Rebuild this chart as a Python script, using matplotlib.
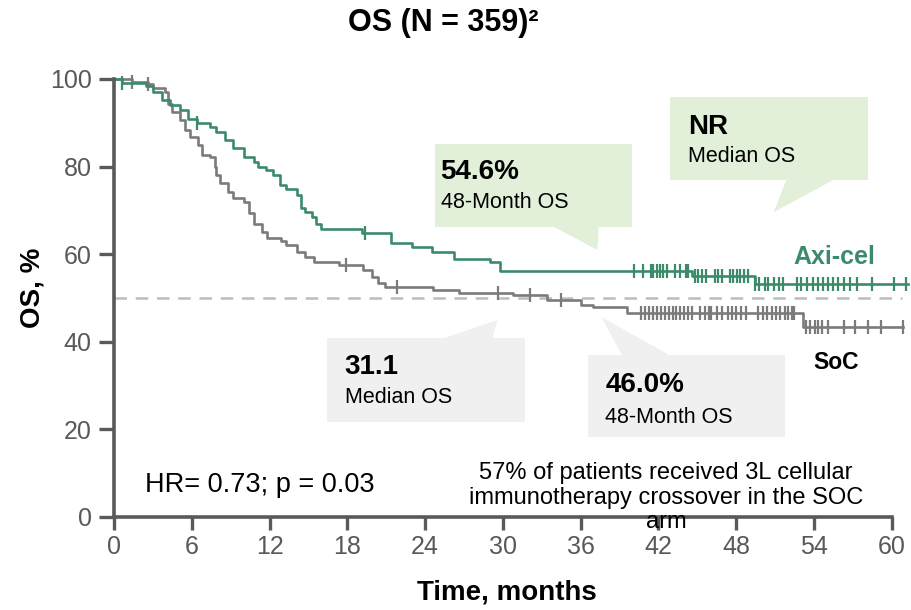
import numpy as np
import matplotlib
matplotlib.use('Agg')
import matplotlib.pyplot as plt
from matplotlib.patches import Rectangle, Polygon

plt.rcParams['font.family'] = ['Liberation Sans', 'DejaVu Sans']

# 数据：KM 曲线的阶梯点（月, OS%）
axi_t = [0, 0.6, 2.5, 3.0, 3.7, 4.3, 5.1, 5.7, 6.4, 7.4, 7.9, 8.6, 9.2, 10.0, 10.8,
         11.1, 11.7, 12.3, 12.8, 13.3, 14.1, 14.4, 14.7, 15.3, 15.6, 16.0, 19.1,
         21.4, 23.0, 24.5, 26.2, 29.0, 29.8, 44.6, 49.5, 61.3]
axi_s = [100, 99.2, 98.4, 97.1, 95.2, 94.1, 92.9, 90.9, 89.9, 89.1, 88.0, 86.1, 84.2,
         82.3, 81.1, 80.0, 79.2, 78.1, 75.8, 75.0, 73.5, 70.5, 69.7, 68.6, 67.0, 65.7,
         64.9, 62.5, 61.7, 60.6, 58.8, 58.3, 56.1, 55.0, 53.3, 53.3]
soc_t = [0, 1.4, 2.6, 3.0, 3.9, 4.2, 4.5, 5.1, 5.5, 5.9, 6.5, 6.8, 7.4, 7.8, 7.9, 8.2,
         8.8, 9.2, 10.0, 10.4, 10.8, 11.4, 11.8, 12.9, 13.3, 14.1, 14.7, 15.4, 17.4,
         19.2, 19.9, 20.4, 20.9, 24.6, 26.6, 30.8, 33.4, 36.0, 37.0, 39.6, 53.2, 60.9]
soc_s = [100, 99.4, 98.9, 97.9, 97.1, 94.4, 92.5, 90.6, 88.4, 86.8, 84.9, 82.6, 82.3,
         80.0, 78.1, 76.2, 74.3, 72.8, 72.0, 69.3, 67.0, 65.1, 63.6, 62.9, 62.1, 60.6,
         59.4, 58.3, 57.5, 56.4, 54.9, 53.4, 52.4, 51.8, 51.2, 50.7, 49.5, 48.4, 48.0,
         46.6, 43.4, 43.4]

# 删失标记（月）
axi_cens = [0.6, 6.4, 19.4, 40.1, 40.8, 41.4, 41.6, 41.9, 42.1, 42.4, 42.7, 43.3, 43.7,
            44.1, 44.3, 44.8, 45.1, 45.4, 45.7, 46.4, 46.6, 46.9, 47.5, 47.8, 48.1, 48.3,
            48.6, 48.9, 49.5, 49.8, 50.2, 50.5, 50.9, 51.3, 51.6, 52.7, 53.0, 53.5, 53.9,
            54.3, 54.7, 55.1, 55.5, 55.9, 56.3, 56.8, 57.3, 58.5, 60.2, 61.1]
soc_cens = [1.4, 2.6, 17.9, 21.8, 29.6, 32.1, 34.5, 40.7, 41.0, 41.3, 41.6, 41.9, 42.2,
            42.5, 42.8, 43.1, 43.4, 43.7, 44.0, 44.3, 44.6, 45.2, 45.6, 45.9, 46.1, 46.5,
            46.9, 47.4, 47.7, 48.0, 48.4, 48.8, 49.7, 50.1, 50.4, 50.8, 51.1, 51.4, 51.8,
            52.0, 52.3, 52.5, 53.4, 53.7, 54.1, 54.3, 54.6, 55.1, 56.3, 57.2, 58.2, 59.2,
            60.9]

xticks = [0, 6, 12, 18, 24, 30, 36, 42, 48, 54, 60]
yticks = [0, 20, 40, 60, 80, 100]

green = '#3b8b6b'
grey = '#7b7b7b'
axcol = '#595959'
box_green = '#e2efd9'
box_grey = '#f0f0f0'


def surv_at(t, times, surv):
    i = np.searchsorted(times, t, side='right') - 1
    return np.array(surv)[i]


fig = plt.figure(figsize=(9.12, 6.10), dpi=100)
ax = fig.add_axes([114 / 912, 93 / 610, 797 / 912, 438 / 610])

# 标注框
def callout(x0, x1, y0, y1, tail, color):
    ax.add_patch(Rectangle((x0, y0), x1 - x0, y1 - y0, facecolor=color, edgecolor='none', zorder=1))
    ax.add_patch(Polygon(tail, closed=True, facecolor=color, edgecolor='none', zorder=1))

callout(24.8, 40.0, 66.2, 85.2, [(33.9, 66.3), (37.4, 66.3), (37.3, 61.0)], box_green)
callout(42.9, 58.2, 77.0, 95.9, [(51.9, 77.1), (55.6, 77.1), (50.9, 69.6)], box_green)
callout(16.4, 31.7, 21.7, 40.9, [(25.4, 40.8), (29.2, 40.8), (29.6, 45.0)], box_grey)
callout(36.6, 51.8, 18.3, 37.0, [(37.6, 45.7), (39.2, 36.9), (42.9, 36.9)], box_grey)

ax.text(25.2, 78.8, '54.6%', fontsize=20, fontweight='bold', va='center', zorder=2)
ax.text(25.2, 71.7, '48-Month OS', fontsize=15.5, va='center', zorder=2)
ax.text(44.3, 89.0, 'NR', fontsize=20, fontweight='bold', va='center', zorder=2)
ax.text(44.3, 82.2, 'Median OS', fontsize=15.5, va='center', zorder=2)
ax.text(17.8, 34.2, '31.1', fontsize=20, fontweight='bold', va='center', zorder=2)
ax.text(17.8, 27.2, 'Median OS', fontsize=15.5, va='center', zorder=2)
ax.text(37.9, 30.1, '46.0%', fontsize=20, fontweight='bold', va='center', zorder=2)
ax.text(37.9, 22.8, '48-Month OS', fontsize=15.5, va='center', zorder=2)

# 50% 参考线
ax.plot([0, 60.8], [50, 50], color='#bdbdbd', lw=1.8, dashes=(5, 3.5), zorder=2, clip_on=False)

# KM 曲线
ax.step(axi_t, axi_s, where='post', color=green, lw=1.9, zorder=4, clip_on=False)
ax.step(soc_t, soc_s, where='post', color=grey, lw=1.9, zorder=3, clip_on=False)
ax.plot(axi_cens, surv_at(axi_cens, axi_t, axi_s), ls='none', marker='|', ms=10.5, mew=1.6,
        color=green, zorder=4, clip_on=False)
ax.plot(soc_cens, surv_at(soc_cens, soc_t, soc_s), ls='none', marker='|', ms=10.5, mew=1.6,
        color=grey, zorder=3, clip_on=False)

ax.text(55.6, 59.4, 'Axi-cel', color=green, fontsize=18, fontweight='bold', ha='center', va='center')
ax.text(55.7, 35.2, 'SoC', color='black', fontsize=16.5, fontweight='bold', ha='center', va='center')
ax.text(2.4, 7.3, 'HR= 0.73; p = 0.03', fontsize=19.5, va='center')
ax.text(42.6, 4.4, '57% of patients received 3L cellular\nimmunotherapy crossover in the SOC\narm',
        fontsize=17, ha='center', va='center', linespacing=1.15, zorder=6)

ax.set_xlim(0, 61.5)
ax.set_ylim(0, 100)
ax.set_xticks(xticks)
ax.set_yticks(yticks)
for s in ['top', 'right']:
    ax.spines[s].set_visible(False)
for s in ['left', 'bottom']:
    ax.spines[s].set_color(axcol)
    ax.spines[s].set_linewidth(2.6)
    ax.spines[s].set_zorder(5)
ax.spines['bottom'].set_bounds(0, 60)
ax.tick_params(axis='x', length=9, width=2.4, color=axcol, labelcolor=axcol, labelsize=18, pad=4)
ax.tick_params(axis='y', length=11, width=2.4, color=axcol, labelcolor=axcol, labelsize=18, pad=5)

fig.text(443 / 912, 1 - 23 / 610, 'OS (N = 359)²', fontsize=22, fontweight='bold', ha='center', va='center')
fig.text(33 / 912, 1 - 288 / 610, 'OS, %', fontsize=20, fontweight='bold', rotation=90, ha='center', va='center')
fig.text(507 / 912, 1 - 593 / 610, 'Time, months', fontsize=20, fontweight='bold', ha='center', va='center')

fig.savefig('out.png', dpi=100)
